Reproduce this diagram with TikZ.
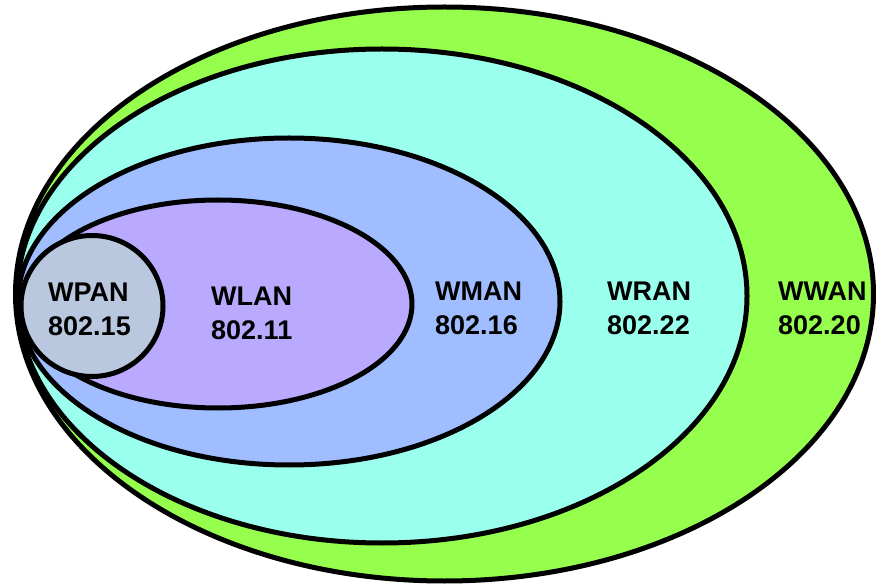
\documentclass[tikz,border=0pt]{standalone}
\usepackage{fontspec}
\setmainfont{Liberation Sans}
\definecolor{cwwan}{RGB}{150,255,77}
\definecolor{cwran}{RGB}{155,255,238}
\definecolor{cwman}{RGB}{160,190,255}
\definecolor{cwlan}{RGB}{186,170,255}
\definecolor{cwpan}{RGB}{185,200,222}
\tikzset{
  zone/.style={draw=black, line width=5pt},
  lbl/.style={anchor=west, align=left, inner sep=0pt, font=\fontsize{27}{34}\selectfont\bfseries}
}
\begin{document}
\begin{tikzpicture}[x=1pt,y=-1pt]
\useasboundingbox (0,0) rectangle (876,585);
\path[zone, fill=cwwan] (444.5,294) ellipse [x radius=429, y radius=287];
\path[zone, fill=cwran] (382,296) ellipse [x radius=365, y radius=247];
\path[zone, fill=cwman] (289,301.5) ellipse [x radius=271, y radius=163.5];
\path[zone, fill=cwlan] (218,304) ellipse [x radius=194, y radius=104];
\path[zone, fill=cwpan] (92,306) ellipse [x radius=71, y radius=70.5];
\node[lbl] (wpan) at (48,309) {WPAN\\802.15};
\node[lbl] (wlan) at (211,313) {WLAN\\802.11};
\node[lbl] (wman) at (435,308) {WMAN\\802.16};
\node[lbl] (wran) at (607,308) {WRAN\\802.22};
\node[lbl] (wwan) at (778,308) {WWAN\\802.20};
\end{tikzpicture}
\end{document}
